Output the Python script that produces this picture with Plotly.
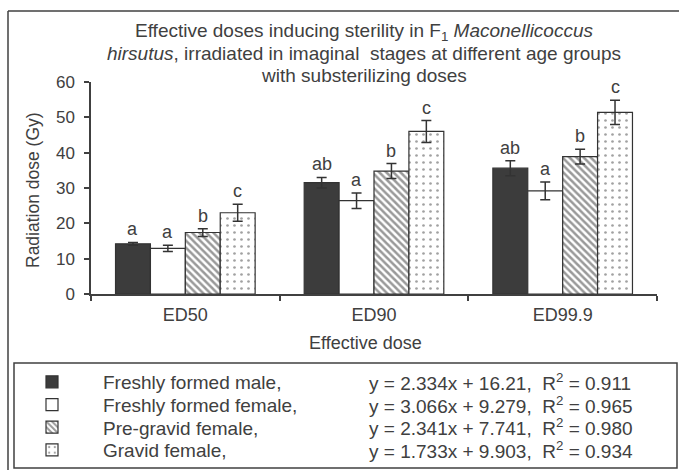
import plotly.graph_objects as go

# ---- data ----
categories = ["ED50", "ED90", "ED99.9"]
series_names = ["Freshly formed male,", "Freshly formed female,", "Pre-gravid female,", "Gravid female,"]
male_vals = [14.2, 31.5, 35.6]
male_err = [0.4, 1.5, 2.1]
female_vals = [12.9, 26.4, 29.2]
female_err = [0.9, 2.2, 2.5]
pregravid_vals = [17.4, 34.8, 38.9]
pregravid_err = [1.1, 2.1, 2.1]
gravid_vals = [23.0, 46.0, 51.4]
gravid_err = [2.4, 3.1, 3.4]
male_letters = ["a", "ab", "ab"]
female_letters = ["a", "a", "a"]
pregravid_letters = ["b", "b", "b"]
gravid_letters = ["c", "c", "c"]
equations = [
    "y = 2.334x + 16.21,  R<sup>2</sup> = 0.911",
    "y = 3.066x + 9.279,  R<sup>2</sup> = 0.965",
    "y = 2.341x + 7.741,  R<sup>2</sup> = 0.980",
    "y = 1.733x + 9.903,  R<sup>2</sup> = 0.934",
]
title_lines = [
    "Effective doses inducing sterility in F<sub>1</sub> <i>Maconellicoccus</i>",
    "<i>hirsutus</i>, irradiated in imaginal  stages at different age groups",
    "with substerilizing doses",
]
y_ticks = [0, 10, 20, 30, 40, 50, 60]

W, H = 679, 470
ML, MR, MT, MB = 91, 22, 82, 176
PW, PH = W - ML - MR, H - MT - MB
BARGAP = 0.26
TXT = "#404040"
FONT = "Liberation Sans, Arial, sans-serif"


def px2x(px):
    return (px - ML) / PW


def px2y(py):
    return (H - MB - py) / PH


vals = [male_vals, female_vals, pregravid_vals, gravid_vals]
errs = [male_err, female_err, pregravid_err, gravid_err]
letters = [male_letters, female_letters, pregravid_letters, gravid_letters]

styles = [
    dict(marker=dict(color="#3c3c3c", line=dict(color="#333333", width=1.2))),
    dict(marker=dict(color="white", line=dict(color="#333333", width=1.2))),
    dict(marker=dict(color="white", line=dict(color="#333333", width=1.2),
                     pattern=dict(shape="\\", fgcolor="#333333", bgcolor="white",
                                  size=5, solidity=0.5))),
    dict(marker=dict(color="white", line=dict(color="#333333", width=1.2),
                     pattern=dict(shape=".", fgcolor="#444444", bgcolor="white",
                                  size=7, solidity=0.12))),
]

legend_ids = ["legend", "legend2", "legend3", "legend4"]
row_y = [382, 404.7, 427.3, 450]

fig = go.Figure()
for i, name in enumerate(series_names):
    fig.add_trace(go.Bar(
        x=categories, y=vals[i], name=name, legend=legend_ids[i],
        error_y=dict(type="data", array=errs[i], color="#333333", thickness=1.5, width=5),
        **styles[i],
    ))

annotations = []
# significance letters above error bars
bw = (1 - BARGAP) / len(series_names)
for i in range(len(series_names)):
    for c in range(len(categories)):
        xpos = c - (1 - BARGAP) / 2 + (i + 0.5) * bw
        annotations.append(dict(
            x=xpos, y=vals[i][c] + errs[i][c], xref="x", yref="y",
            text=letters[i][c], showarrow=False, yanchor="bottom", yshift=1,
            font=dict(size=18, color=TXT, family=FONT),
        ))

# title lines
title_y = [32, 53.5, 75]
for k, t in enumerate(title_lines):
    annotations.append(dict(x=px2x(364), y=px2y(title_y[k]), xref="paper", yref="paper",
                            text=t, showarrow=False, xanchor="center", yanchor="middle",
                            font=dict(size=19, color=TXT, family=FONT)))

# axis titles
annotations.append(dict(x=px2x(33), y=px2y(190), xref="paper", yref="paper",
                        text="Radiation dose (Gy)", textangle=-90, showarrow=False,
                        xanchor="center", yanchor="middle",
                        font=dict(size=17.5, color=TXT, family=FONT)))
annotations.append(dict(x=px2x(365), y=px2y(343), xref="paper", yref="paper",
                        text="Effective dose", showarrow=False, xanchor="center", yanchor="middle",
                        font=dict(size=18, color=TXT, family=FONT)))

# equations in legend box
for k, eq in enumerate(equations):
    annotations.append(dict(x=px2x(367), y=px2y(row_y[k]), xref="paper", yref="paper",
                            text=eq, showarrow=False, xanchor="left", yanchor="middle",
                            font=dict(size=19, color=TXT, family=FONT)))

shapes = [
    # outer frame (top and left)
    dict(type="line", xref="paper", yref="paper", x0=px2x(8), x1=px2x(679),
         y0=px2y(11), y1=px2y(11), line=dict(color="#404040", width=1.5)),
    dict(type="line", xref="paper", yref="paper", x0=px2x(8), x1=px2x(8),
         y0=px2y(11), y1=px2y(470), line=dict(color="#404040", width=1.5)),
    # legend box
    dict(type="rect", xref="paper", yref="paper", x0=px2x(14), x1=px2x(677),
         y0=px2y(363), y1=px2y(468), line=dict(color="#404040", width=1.5)),
]

legends = {}
for k, lid in enumerate(legend_ids):
    legends[lid] = dict(
        x=px2x(1), y=px2y(row_y[k]), xanchor="left", yanchor="middle",
        font=dict(size=19, color=TXT, family=FONT),
        bgcolor="rgba(0,0,0,0)", borderwidth=0, itemwidth=92,
    )

fig.update_layout(
    width=W, height=H,
    margin=dict(l=ML, r=MR, t=MT, b=MB, pad=0, autoexpand=False),
    paper_bgcolor="white", plot_bgcolor="white",
    barmode="group", bargap=BARGAP, bargroupgap=0,
    font=dict(family=FONT, color=TXT, size=17),
    xaxis=dict(
        showline=True, linecolor="#404040", linewidth=1.5,
        ticks="outside", tickson="boundaries", ticklen=5, tickcolor="#404040", tickwidth=1.5,
        tickfont=dict(size=18, color=TXT), showgrid=False, zeroline=False,
        ticklabelstandoff=4,
    ),
    yaxis=dict(
        range=[0, 60], tickvals=y_ticks, showline=True, linecolor="#404040", linewidth=1.5,
        ticks="outside", ticklen=5, tickcolor="#404040", tickwidth=1.5,
        tickfont=dict(size=17, color=TXT), showgrid=False, zeroline=False,
        ticklabelstandoff=6,
    ),
    showlegend=True,
    annotations=annotations,
    shapes=shapes,
    **legends,
)

fig.write_html("out.html", config={"displayModeBar": False},
               post_script="document.body.style.margin='0px';")
